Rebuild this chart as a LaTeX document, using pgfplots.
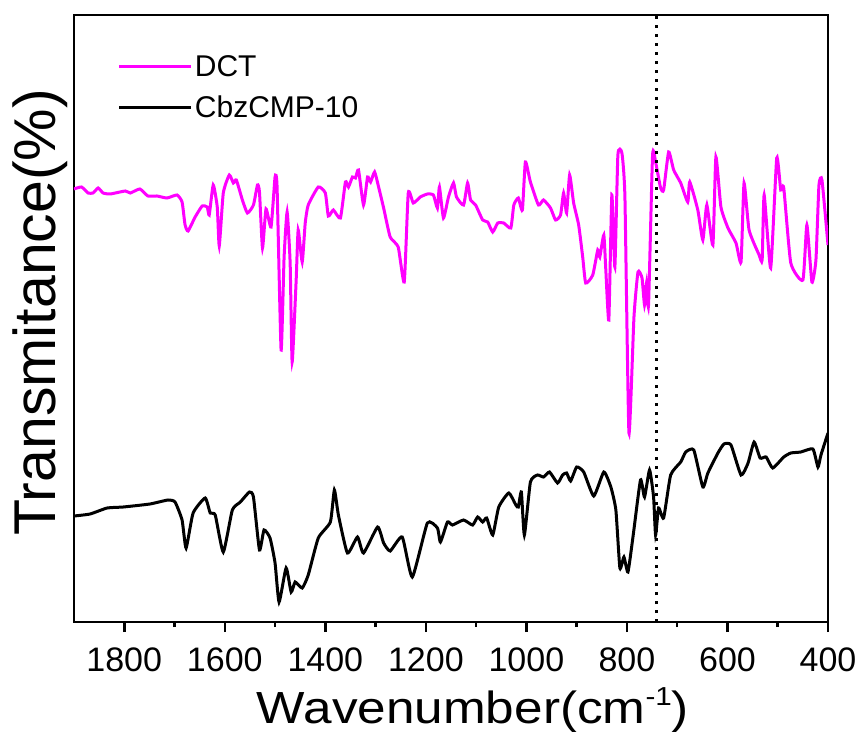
\documentclass[border=0pt]{standalone}
\usepackage{pgfplots}
\pgfplotsset{compat=1.18}
\usepackage{fontspec}
\setmainfont{Liberation Sans}
\definecolor{dctpink}{RGB}{255,0,255}
\begin{document}
\begin{tikzpicture}
\begin{axis}[
  at={(0pt,0pt)}, anchor=south west,
  scale only axis, width=754pt, height=607pt,
  x dir=reverse, xmin=400, xmax=1900, ymin=0, ymax=607,
  xtick={400,600,...,1800}, minor x tick num=1,
  ytick=\empty, xtick pos=bottom, tick align=outside,
  major tick length=10pt, minor tick length=5pt,
  axis line style={line width=2.5pt},
  tick style={line width=2.5pt, black},
  /pgf/number format/1000 sep={},
  /pgf/number format/assume math mode=true,
  xticklabel style={font=\fontsize{34}{40}\selectfont, yshift=-12pt},
  xlabel={\scalebox{1.14}[1]{Wavenumber(cm\raisebox{0.75ex}{\fontsize{26}{26}\selectfont -1})}},
  xlabel style={font=\fontsize{45}{54}\selectfont, xshift=22pt, yshift=-9pt},
  ylabel={Transmitance(\%)},
  ylabel style={font=\fontsize{59}{68}\selectfont, at={(ticklabel cs:0.51)}, yshift=-7pt},
  legend style={draw=none, fill=none, inner sep=0pt, at={(0.058,0.937)}, anchor=north west,
    font=\fontsize{30}{36}\selectfont, cells={anchor=west}, row sep=14pt},
  legend image code/.code={\draw[#1] (0pt,0pt) -- (72pt,0pt);},
]
\addplot[dctpink, line width=3pt, smooth, tension=0.3] coordinates {
(1900,433)(1885,435)(1872,429)(1862,429)(1852,434)(1842,429)(1828,428)(1798,431)(1788,429)
(1769,433)(1753,426)(1735,426)(1715,424)(1695,427)(1685,420)(1679,397)(1673,391)(1659,405)
(1645,416)(1635,415)(1631,407)(1623,437)(1615,415)(1611,376)(1603,429)(1591,447)(1583,439)
(1577,442)(1565,422)(1555,409)(1543,417)(1535,437)(1531,430)(1525,374)(1518,413)(1508,395)
(1500,445)(1496,435)(1488,272)(1482,365)(1476,410)(1470,359)(1466,260)(1458,342)(1454,392)
(1446,360)(1440,399)(1434,417)(1414,435)(1400,429)(1394,406)(1384,412)(1370,404)(1360,440)
(1354,435)(1346,445)(1340,444)(1334,452)(1324,417)(1316,445)(1310,440)(1302,450)(1294,435)
(1284,414)(1271,385)(1255,375)(1243,340)(1235,429)(1225,419)(1211,425)(1197,428)(1185,427)
(1177,414)(1173,435)(1165,404)(1155,425)(1145,439)(1139,425)(1125,417)(1117,439)(1111,422)
(1101,417)(1087,402)(1077,400)(1067,390)(1057,399)(1045,399)(1031,394)(1025,417)(1016,424)
(1008,412)(1002,460)(992,440)(976,417)(966,422)(952,414)(942,402)(932,407)(926,429)(920,409)
(914,447)(906,419)(896,397)(888,365)(882,339)(868,347)(858,372)(854,365)(846,387)(842,352)
(836,302)(830,427)(824,355)(818,467)(810,469)(804,425)(796,189)(786,305)(778,350)(770,344)
(765,317)(761,339)(757,317)(749,467)(743,460)(733,434)(727,432)(717,470)(707,452)(693,439)
(679,420)(675,440)(659,412)(649,382)(641,417)(629,377)(623,465)(613,415)(599,394)(583,379)
(573,360)(567,439)(557,392)(537,367)(531,362)(527,427)(514,354)(502,464)(494,432)(488,434)
(474,359)(450,342)(442,397)(432,340)(424,362)(418,437)(412,442)(400,377)
};
\addlegendentry{DCT}
\addplot[black, line width=3pt, smooth, tension=0.3] coordinates {
(1900,106)(1868,108)(1834,114)(1802,115)(1749,118)(1713,122)(1699,120)(1685,102)(1677,74)
(1663,109)(1639,124)(1629,109)(1619,107)(1603,70)(1585,112)(1569,120)(1551,130)(1543,125)
(1531,72)(1522,92)(1510,84)(1500,59)(1492,20)(1478,54)(1468,30)(1460,40)(1446,34)(1434,47)
(1414,84)(1390,100)(1382,132)(1374,107)(1356,69)(1336,85)(1324,69)(1296,95)(1284,79)
(1271,71)(1247,85)(1227,45)(1197,99)(1177,94)(1171,80)(1157,100)(1147,97)(1125,102)
(1107,97)(1097,105)(1087,100)(1079,104)(1067,87)(1055,115)(1035,129)(1021,117)(1016,115)
(1010,130)(1004,87)(992,140)(978,147)(966,145)(954,150)(938,139)(928,147)(920,149)(912,141)
(900,155)(886,150)(866,126)(846,150)(832,135)(822,112)(814,54)(806,65)(798,50)(788,85)
(773,142)(765,125)(755,152)(747,125)(743,87)(737,114)(727,104)(713,147)(693,160)(683,170)
(667,172)(649,135)(639,149)(619,169)(607,178)(593,177)(573,147)(559,159)(547,180)(535,164)
(523,165)(510,154)(488,165)(474,169)(454,170)(430,173)(420,155)(414,167)(400,189)
};
\addlegendentry{CbzCMP-10}
\addplot[black, line width=2.5pt, dash pattern=on 3pt off 6pt, forget plot] coordinates {(741,0)(741,607)};
\end{axis}
\pgfresetboundingbox
\path[use as bounding box] (-74pt,-109pt) rectangle (787pt,622pt);
\end{tikzpicture}
\end{document}
